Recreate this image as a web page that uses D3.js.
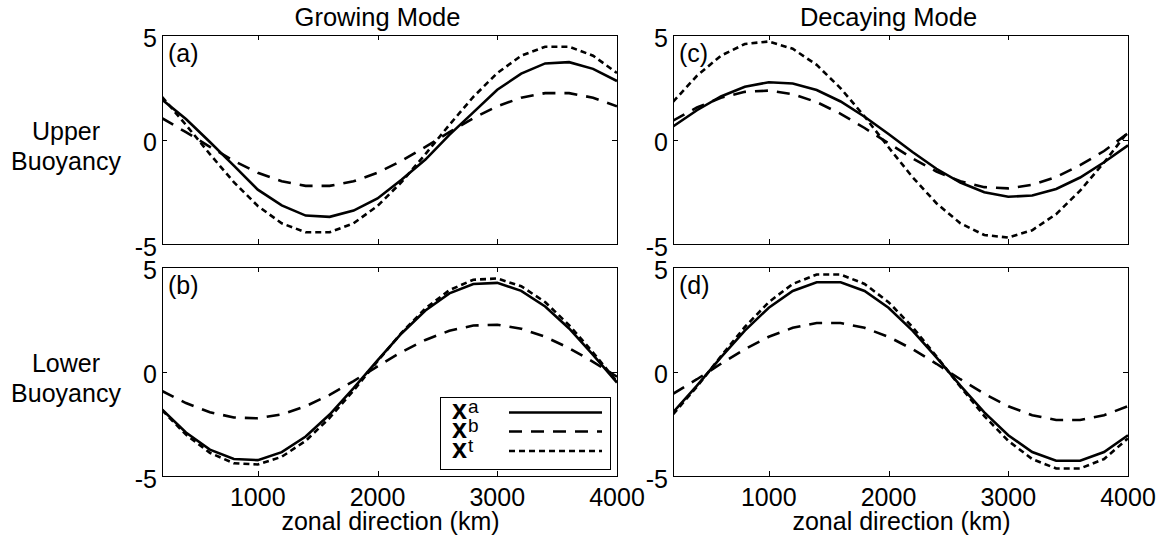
<!DOCTYPE html>
<html>
<head>
<meta charset="utf-8">
<script src="https://cdn.jsdelivr.net/npm/d3@7"></script>
<style>
  html, body { margin: 0; padding: 0; background: #fff; }
  svg { display: block; }
  text { font-family: "Liberation Sans", Arial, Helvetica, sans-serif; fill: #000; }
</style>
</head>
<body>
<svg id="chart" width="1162" height="539"></svg>
<script>
// Zonal grid (km)
const zonal = [200, 400, 600, 800, 1000, 1200, 1400, 1600, 1800, 2000,
               2200, 2400, 2600, 2800, 3000, 3200, 3400, 3600, 3800, 4000];

// (a) Growing mode, upper buoyancy
const growUpperA = [1.91, 0.98, -0.12, -1.25, -2.40, -3.15, -3.64, -3.70, -3.40, -2.82,
                    -1.93, -0.96, 0.22, 1.30, 2.38, 3.15, 3.64, 3.70, 3.38, 2.80];
const growUpperB = [1.02, 0.35, -0.35, -1.02, -1.59, -2.00, -2.22, -2.22, -2.00, -1.59,
                    -1.02, -0.35, 0.35, 1.02, 1.59, 2.00, 2.22, 2.22, 2.00, 1.59];
const growUpperT = [2.04, 0.70, -0.70, -2.04, -3.18, -4.01, -4.44, -4.44, -4.01, -3.18,
                    -2.04, -0.70, 0.70, 2.04, 3.18, 4.01, 4.44, 4.44, 4.01, 3.18];

// (b) Growing mode, lower buoyancy
const growLowerA = [-1.82, -2.92, -3.74, -4.19, -4.24, -3.86, -3.11, -2.06, -0.80, 0.53,
                    1.82, 2.92, 3.74, 4.19, 4.24, 3.86, 3.11, 2.06, 0.80, -0.53];
const growLowerB = [-0.93, -1.51, -1.95, -2.20, -2.24, -2.05, -1.66, -1.12, -0.46, 0.25,
                    0.93, 1.51, 1.95, 2.20, 2.24, 2.05, 1.66, 1.12, 0.46, -0.25];
const growLowerT = [-1.85, -3.02, -3.89, -4.39, -4.45, -4.08, -3.32, -2.22, -0.91, 0.49,
                    1.85, 3.02, 3.89, 4.39, 4.45, 4.08, 3.32, 2.22, 0.91, -0.49];

// (c) Decaying mode, upper buoyancy
const decUpperA = [0.62, 1.40, 2.06, 2.52, 2.74, 2.68, 2.37, 1.82, 1.09, 0.26,
                   -0.60, -1.40, -2.06, -2.52, -2.74, -2.68, -2.37, -1.82, -1.09, -0.28];
const decUpperB = [0.90, 1.53, 2.00, 2.28, 2.34, 2.17, 1.79, 1.23, 0.55, -0.18,
                   -0.90, -1.53, -2.00, -2.28, -2.34, -2.17, -1.79, -1.23, -0.55, 0.30];
const decUpperT = [1.80, 3.05, 4.01, 4.57, 4.69, 4.34, 3.57, 2.45, 1.10, -0.37,
                   -1.80, -3.05, -4.01, -4.57, -4.69, -4.34, -3.57, -2.45, -1.10, 0.37];

// (d) Decaying mode, lower buoyancy
const decLowerA = [-1.96, -0.68, 0.68, 1.96, 3.05, 3.85, 4.27, 4.27, 3.85, 3.05,
                   1.96, 0.68, -0.68, -1.96, -3.05, -3.85, -4.27, -4.27, -3.85, -3.05];
const decLowerB = [-1.07, -0.37, 0.37, 1.07, 1.66, 2.09, 2.32, 2.32, 2.09, 1.66,
                   1.07, 0.37, -0.37, -1.07, -1.66, -2.09, -2.32, -2.32, -2.09, -1.66];
const decLowerT = [-2.05, -0.73, 0.73, 2.13, 3.32, 4.19, 4.64, 4.64, 4.19, 3.32,
                   2.13, 0.73, -0.73, -2.13, -3.32, -4.19, -4.64, -4.64, -4.19, -3.20];

const xTicks = [1000, 2000, 3000, 4000];
const yTicks = [-5, 0, 5];
const yTickText = ["-5", "0", "5"];
const panelLabels = ["(a)", "(b)", "(c)", "(d)"];
const columnTitles = ["Growing Mode", "Decaying Mode"];
const rowLabels = [["Upper", "Buoyancy"], ["Lower", "Buoyancy"]];
const xLabel = "zonal direction (km)";
const seriesKeys = ["a", "b", "t"];

// panel layout
const cols = [[162, 617], [673, 1128]];
const rows = [[35, 244], [267, 476]];
const FONT = 25;

const lineStyle = {
  a: { width: 2.6, dash: null },
  b: { width: 2.6, dash: "13,9" },
  t: { width: 2.6, dash: "6,4" }
};

const panels = [
  { col: 0, row: 0, label: panelLabels[0], series: { a: growUpperA, b: growUpperB, t: growUpperT } },
  { col: 0, row: 1, label: panelLabels[1], series: { a: growLowerA, b: growLowerB, t: growLowerT } },
  { col: 1, row: 0, label: panelLabels[2], series: { a: decUpperA, b: decUpperB, t: decUpperT } },
  { col: 1, row: 1, label: panelLabels[3], series: { a: decLowerA, b: decLowerB, t: decLowerT } }
];

const svg = d3.select("#chart");

panels.forEach((p, i) => {
  const [x0, x1] = cols[p.col];
  const [y0, y1] = rows[p.row];
  const x = d3.scaleLinear().domain([200, 4000]).range([x0, x1]);
  const y = d3.scaleLinear().domain([-5, 5]).range([y1, y0]);
  const g = svg.append("g");

  const clipId = "clip" + i;
  svg.append("clipPath").attr("id", clipId)
    .append("rect").attr("x", x0).attr("y", y0 - 2).attr("width", x1 - x0).attr("height", y1 - y0 + 4);

  // curves
  const line = d3.line().x((d, k) => x(zonal[k])).y(d => y(d));
  seriesKeys.forEach(k => {
    g.append("path")
      .datum(p.series[k])
      .attr("d", line)
      .attr("fill", "none")
      .attr("stroke", "#000")
      .attr("stroke-width", lineStyle[k].width)
      .attr("stroke-dasharray", lineStyle[k].dash)
      .attr("stroke-linejoin", "miter")
      .attr("clip-path", `url(#${clipId})`);
  });

  // inward ticks on all four sides
  const tickLen = 5;
  xTicks.forEach(t => {
    const xx = Math.round(x(t)) + 0.5;
    g.append("line").attr("x1", xx).attr("x2", xx).attr("y1", y1).attr("y2", y1 - tickLen).attr("stroke", "#000");
    g.append("line").attr("x1", xx).attr("x2", xx).attr("y1", y0).attr("y2", y0 + tickLen).attr("stroke", "#000");
  });
  yTicks.forEach(t => {
    const yy = Math.round(y(t)) + 0.5;
    g.append("line").attr("x1", x0).attr("x2", x0 + tickLen).attr("y1", yy).attr("y2", yy).attr("stroke", "#000");
    g.append("line").attr("x1", x1).attr("x2", x1 - tickLen).attr("y1", yy).attr("y2", yy).attr("stroke", "#000");
  });

  // box
  g.append("rect")
    .attr("x", x0 + 0.5).attr("y", y0 + 0.5)
    .attr("width", x1 - x0).attr("height", y1 - y0)
    .attr("fill", "none").attr("stroke", "#000").attr("stroke-width", 1);

  // y tick labels
  yTicks.forEach((t, j) => {
    g.append("text")
      .attr("x", x0 - 5).attr("y", y(t) + 11.5)
      .attr("text-anchor", "end")
      .attr("font-size", FONT)
      .text(yTickText[j]);
  });

  // x tick labels on bottom row only
  if (p.row === 1) {
    xTicks.forEach(t => {
      g.append("text")
        .attr("x", x(t)).attr("y", 505.5)
        .attr("text-anchor", "middle")
        .attr("font-size", FONT)
        .text(t);
    });
    g.append("text")
      .attr("x", (x0 + x1) / 2 + 1).attr("y", 530)
      .attr("text-anchor", "middle")
      .attr("font-size", FONT)
      .text(xLabel);
  } else {
    g.append("text")
      .attr("x", x(2000)).attr("y", 26)
      .attr("text-anchor", "middle")
      .attr("font-size", 25.5)
      .text(columnTitles[p.col]);
  }

  // panel tag
  g.append("text")
    .attr("x", x0 + 6).attr("y", y0 + 27)
    .attr("font-size", FONT)
    .text(p.label);

  // legend in panel (b)
  if (i === 1) {
    const lg = g.append("g");
    const bx = 440, by = 397, bw = 170, bh = 72;
    lg.append("rect").attr("x", bx + 0.5).attr("y", by + 0.5).attr("width", bw).attr("height", bh)
      .attr("fill", "#fff").attr("stroke", "#000").attr("stroke-width", 1);
    const rowY = [412.5, 431.5, 451];
    seriesKeys.forEach((k, j) => {
      const t = lg.append("text")
        .attr("x", 452).attr("y", rowY[j] + 6.5)
        .attr("font-size", 27);
      t.append("tspan").attr("font-weight", "bold").text("x");
      t.append("tspan").attr("font-size", 19).attr("dy", -6).attr("dx", 1).text(k);
      lg.append("line")
        .attr("x1", 509).attr("x2", 602)
        .attr("y1", rowY[j]).attr("y2", rowY[j])
        .attr("stroke", "#000")
        .attr("stroke-width", lineStyle[k].width)
        .attr("stroke-dasharray", lineStyle[k].dash);
    });
  }
});

// row labels
rowLabels.forEach((lines, r) => {
  const base = r === 0 ? 140 : 372;
  lines.forEach((s, j) => {
    svg.append("text")
      .attr("x", 66).attr("y", base + j * 30)
      .attr("text-anchor", "middle")
      .attr("font-size", FONT)
      .text(s);
  });
});
</script>
</body>
</html>
